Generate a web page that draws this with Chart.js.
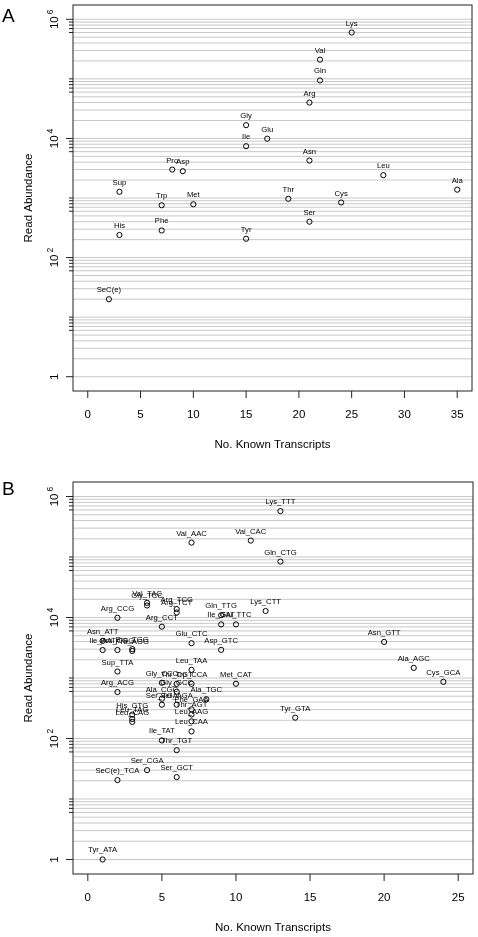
<!DOCTYPE html>
<html>
<head>
<meta charset="utf-8">
<script src="https://cdn.jsdelivr.net/npm/chart.js@4.4.0/dist/chart.umd.min.js"></script>
<style>
body{margin:0;background:#fff;}
#wrapA{position:absolute;left:0;top:0;width:478px;height:468px;}
#wrapB{position:absolute;left:0;top:468px;width:478px;height:469px;}
</style>
</head>
<body>
<div id="wrapA"><canvas id="chartA" width="478" height="468"></canvas></div>
<div id="wrapB"><canvas id="chartB" width="478" height="469"></canvas></div>
<script>
// panel A - per amino acid
var aaNames = ["Lys","Val","Gln","Arg","Gly","Glu","Ile","Asn","Leu","Ala","Thr","Cys","Ser","Tyr",
               "Pro","Asp","Sup","Trp","Met","His","Phe","SeC(e)"];
var aaTranscripts = [25,22,22,21,15,17,15,21,28,35,19,24,21,15,8,9,3,7,10,3,7,2];
var aaReads = [600000,210000,94000,40000,16700,9900,7400,4250,2420,1380,970,840,400,207,
               3000,2820,1270,755,785,239,285,20];

// panel B - per anticodon
var codonNames = ["Lys_TTT","Val_AAC","Val_CAC","Gln_CTG","Val_TAC","Gly_TCC","Arg_TCG","Arg_TCT",
  "Arg_CCG","Lys_CTT","Gln_TTG","Ile_GAT","Glu_TTC","Arg_CCT","Asn_ATT","Ile_AAT","Pro_CGG",
  "Pro_TGG","Pro_AGG","Glu_CTC","Asp_GTC","Asn_GTT","Sup_TTA","Leu_TAA","Gly_CCC","Thr_CGT",
  "Trp_CCA","Met_CAT","Ala_AGC","Cys_GCA","Arg_ACG","Gly_GCC","Ala_CGC","Ala_TGC","Ser_TGA",
  "Ser_AGA","His_GTG","Leu_TAG","Leu_CAG","Phe_GAA","Thr_AGT","Leu_AAG","Leu_CAA","Tyr_GTA",
  "Ile_TAT","Thr_TGT","Ser_CGA","Ser_GCT","SeC(e)_TCA","Tyr_ATA"];
var codonTranscripts = [13,7,11,13,4,4,6,6,2,12,9,9,10,5,1,1,2,3,3,7,9,20,2,7,5,6,7,10,22,24,2,6,5,8,5,
  6,3,3,3,7,7,7,7,14,5,6,4,6,2,1];
var codonReads = [574000,173000,187000,84000,17500,15800,13800,12100,9900,12800,10900,7700,7700,7050,
  4100,2900,2900,3000,2800,3760,2920,3950,1280,1365,834,800,800,803,1470,865,586,593,454,446,362,
  362,248,210,188,302,250,192,131,221,93,64,30,23,20.5,1];

var xTicksA = [0,5,10,15,20,25,30,35];
var xTicksB = [0,5,10,15,20,25];
var yLabelExps = [0,2,4,6];

var FONT = "'Liberation Sans', Arial, Helvetica, sans-serif";

function makePlot(id, letter, letterY, names, xs, ys, xMin, xMax, xTicks, pad) {
  var pts = [];
  for (var i = 0; i < xs.length; i++) pts.push({x: xs[i], y: ys[i]});

  var rPlot = {
    id: 'rPlot',
    beforeDatasetsDraw: function(chart) {
      var ctx = chart.ctx, a = chart.chartArea, sy = chart.scales.y;
      ctx.save();
      ctx.strokeStyle = '#c8c8c8';
      ctx.lineWidth = 1;
      for (var e = 0; e <= 6; e++) {
        for (var m = 1; m <= 9; m++) {
          var v = m * Math.pow(10, e);
          if (v > 1e6) break;
          var py = sy.getPixelForValue(v);
          ctx.beginPath();
          ctx.moveTo(a.left, py);
          ctx.lineTo(a.right, py);
          ctx.stroke();
        }
      }
      ctx.restore();
    },
    afterDatasetsDraw: function(chart) {
      var ctx = chart.ctx, a = chart.chartArea, sx = chart.scales.x, sy = chart.scales.y;
      var meta = chart.getDatasetMeta(0);
      ctx.save();
      // point labels above points
      ctx.fillStyle = '#000';
      ctx.font = '7.7px ' + FONT;
      ctx.textAlign = 'center';
      ctx.textBaseline = 'alphabetic';
      meta.data.forEach(function(el, i) {
        ctx.fillText(names[i], el.x, el.y - 7);
      });

      // frame
      ctx.strokeStyle = '#222';
      ctx.lineWidth = 1;
      ctx.strokeRect(a.left, a.top, a.right - a.left, a.bottom - a.top);

      // x ticks
      ctx.font = '11.5px ' + FONT;
      xTicks.forEach(function(t) {
        var px = sx.getPixelForValue(t);
        ctx.beginPath();
        ctx.moveTo(px, a.bottom);
        ctx.lineTo(px, a.bottom + 7);
        ctx.stroke();
        ctx.fillText(String(t), px, a.bottom + 27);
      });
      ctx.fillText('No. Known Transcripts', (a.left + a.right) / 2, a.bottom + 57);

      // y ticks: major + minor
      for (var e = 0; e <= 6; e++) {
        var p = sy.getPixelForValue(Math.pow(10, e));
        var len = (e % 2 === 0) ? 7 : 4;
        ctx.beginPath();
        ctx.moveTo(a.left - len, p);
        ctx.lineTo(a.left, p);
        ctx.stroke();
        if (e > 0) {
          for (var m = 6; m <= 9; m++) {
            var pm = sy.getPixelForValue(m * Math.pow(10, e - 1));
            ctx.beginPath();
            ctx.moveTo(a.left - 4, pm);
            ctx.lineTo(a.left, pm);
            ctx.stroke();
          }
        }
      }
      // y tick labels (rotated like R)
      yLabelExps.forEach(function(e) {
        var py = sy.getPixelForValue(Math.pow(10, e));
        ctx.save();
        ctx.translate(a.left - 15, py);
        ctx.rotate(-Math.PI / 2);
        ctx.textAlign = 'left';
        if (e === 0) {
          ctx.font = '11.5px ' + FONT;
          var w = ctx.measureText('1').width;
          ctx.fillText('1', -w / 2, 0);
        } else {
          ctx.font = '11.5px ' + FONT;
          var w1 = ctx.measureText('10').width;
          ctx.font = '8.5px ' + FONT;
          var w2 = ctx.measureText(String(e)).width;
          var x0 = -(w1 + w2 + 2) / 2;
          ctx.font = '11.5px ' + FONT;
          ctx.fillText('10', x0, 0);
          ctx.font = '8.5px ' + FONT;
          ctx.fillText(String(e), x0 + w1 + 2, -5);
        }
        ctx.restore();
      });
      // y title
      ctx.save();
      ctx.translate(31.5, (a.top + a.bottom) / 2);
      ctx.rotate(-Math.PI / 2);
      ctx.textAlign = 'center';
      ctx.font = '11.5px ' + FONT;
      ctx.fillText('Read Abundance', 0, 0);
      ctx.restore();

      // panel letter
      ctx.textAlign = 'left';
      ctx.font = '19px ' + FONT;
      ctx.fillText(letter, 2, letterY);
      ctx.restore();
    }
  };

  return new Chart(document.getElementById(id).getContext('2d'), {
    type: 'scatter',
    data: {
      datasets: [{
        data: pts,
        pointStyle: 'circle',
        pointRadius: 2.6,
        pointBorderWidth: 1,
        pointBorderColor: '#000',
        pointBackgroundColor: 'rgba(0,0,0,0)'
      }]
    },
    options: {
      responsive: false,
      animation: false,
      layout: { padding: pad },
      scales: {
        x: { type: 'linear', display: false, min: xMin, max: xMax, bounds: 'data' },
        y: { type: 'logarithmic', display: false, min: Math.pow(10, -0.24), max: Math.pow(10, 6.24), bounds: 'data' }
      },
      plugins: { legend: { display: false }, tooltip: { enabled: false } }
    },
    plugins: [rPlot]
  });
}

makePlot('chartA', 'A', 22, aaNames, aaTranscripts, aaReads, -1.4, 36.4, xTicksA,
  {left: 73, top: 1, right: 6, bottom: 77});
makePlot('chartB', 'B', 27, codonNames, codonTranscripts, codonReads, -1, 26, xTicksB,
  {left: 73, top: 14, right: 5, bottom: 63});
</script>
</body>
</html>
